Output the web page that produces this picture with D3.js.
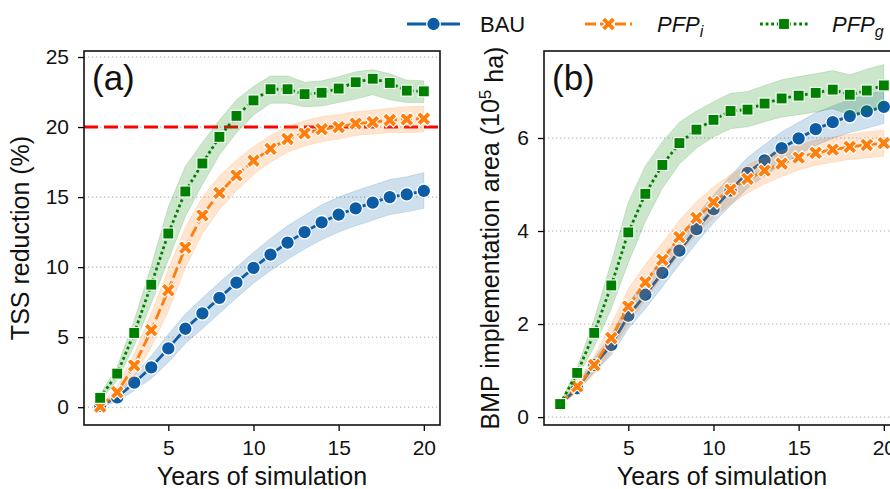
<!DOCTYPE html>
<html><head><meta charset="utf-8">
<script src="https://cdn.jsdelivr.net/npm/d3@7"></script>
<style>
body{margin:0;background:#fff}
text{font-family:"Liberation Sans",Arial,Helvetica,sans-serif;fill:#111}
</style>
</head><body>
<svg id="chart" width="890" height="489" xmlns="http://www.w3.org/2000/svg"></svg>
<script>
// ---------- data ----------
const years = [1,2,3,4,5,6,7,8,9,10,11,12,13,14,15,16,17,18,19,20];
const seriesNames = ["BAU","PFP_i","PFP_g"];
const seriesColors = ["#0c5da5","#ff7f0e","#008000"];

// (a) TSS reduction (%)
const tssBAU     = [0.1,0.7,1.75,2.85,4.2,5.6,6.7,7.8,8.9,9.95,10.9,11.75,12.5,13.2,13.75,14.2,14.6,15.0,15.2,15.45];
const tssBAULow  = [0.0,0.4,1.2,2.05,3.2,4.55,5.6,6.7,7.8,8.85,9.75,10.55,11.3,11.95,12.5,12.95,13.35,13.75,13.95,14.2];
const tssBAUHigh = [0.2,1.0,2.3,3.65,5.2,6.65,7.8,8.9,10.0,11.05,12.05,12.95,13.7,14.45,15.0,15.45,15.85,16.25,16.45,16.75];
const tssPFPi     = [0.05,1.07,2.98,5.5,8.35,11.4,13.7,15.3,16.55,17.6,18.45,19.15,19.55,19.85,20.0,20.25,20.35,20.5,20.55,20.6];
const tssPFPiLow  = [0.0,0.7,2.2,4.3,6.85,9.95,12.4,14.1,15.45,16.6,17.5,18.2,18.65,18.95,19.15,19.4,19.5,19.6,19.6,19.65];
const tssPFPiHigh = [0.15,1.45,3.8,6.7,9.85,12.85,15.0,16.5,17.65,18.6,19.4,20.05,20.45,20.75,20.9,21.1,21.2,21.35,21.45,21.5];
const tssPFPg     = [0.67,2.4,5.3,8.75,12.4,15.4,17.4,19.3,20.8,21.9,22.7,22.7,22.35,22.45,22.75,23.2,23.45,23.15,22.6,22.55];
const tssPFPgLow  = [0.45,1.9,4.4,7.4,10.5,13.6,15.9,18.0,19.6,20.85,21.7,21.7,21.45,21.5,21.75,22.0,22.3,21.95,21.75,21.75];
const tssPFPgHigh = [0.9,2.9,6.2,10.1,14.3,17.2,18.9,20.5,21.95,22.9,23.65,23.65,23.2,23.3,23.6,23.95,24.1,23.8,23.35,23.3];
const tssTarget = 20;

// (b) BMP implementation area (10^5 ha)
const areaBAU     = [0.28,0.62,1.12,1.55,2.18,2.63,3.1,3.58,4.04,4.47,4.87,5.25,5.52,5.78,5.99,6.19,6.34,6.47,6.57,6.67];
const areaBAULow  = [0.25,0.54,0.97,1.33,1.9,2.33,2.8,3.28,3.74,4.17,4.55,4.92,5.18,5.43,5.64,5.84,5.99,6.12,6.21,6.31];
const areaBAUHigh = [0.31,0.7,1.27,1.77,2.46,2.93,3.4,3.88,4.34,4.77,5.19,5.58,5.86,6.13,6.34,6.54,6.69,6.82,6.93,7.03];
const areaPFPi     = [0.28,0.66,1.12,1.7,2.38,2.9,3.38,3.87,4.28,4.62,4.89,5.12,5.3,5.45,5.58,5.68,5.75,5.81,5.85,5.89];
const areaPFPiLow  = [0.25,0.56,0.92,1.4,2.0,2.52,3.01,3.51,3.93,4.29,4.57,4.82,5.01,5.17,5.31,5.41,5.48,5.54,5.57,5.61];
const areaPFPiHigh = [0.31,0.76,1.32,2.0,2.76,3.28,3.75,4.23,4.63,4.95,5.21,5.42,5.59,5.73,5.85,5.95,6.02,6.08,6.13,6.17];
const areaPFPg     = [0.28,0.95,1.81,2.83,3.97,4.8,5.42,5.89,6.18,6.39,6.58,6.61,6.74,6.85,6.91,6.97,7.04,6.93,7.02,7.13];
const areaPFPgLow  = [0.25,0.83,1.51,2.33,3.32,4.2,4.92,5.44,5.78,6.02,6.2,6.24,6.35,6.45,6.5,6.56,6.63,6.5,6.55,6.65];
const areaPFPgHigh = [0.31,1.07,2.11,3.33,4.62,5.4,5.92,6.34,6.58,6.78,6.96,7.0,7.13,7.25,7.32,7.38,7.45,7.36,7.48,7.58];

const tssTicks = [0,5,10,15,20,25];
const areaTicks = [0,2,4,6];
const yearTicks = [5,10,15,20];

// ---------- drawing ----------
const svg = d3.select("#chart");
svg.append("rect").attr("width",890).attr("height",489).attr("fill","#fff");

const dashes = ["none","11,4","2.8,2.8"];
const frameTop = 51, frameBottom = 425, frameW = 356;

function build(mean, low, high){
  return years.map((yr,i)=>({year:yr, v:mean[i], lo:low[i], hi:high[i]}));
}

const panels = [
  {left:84, tag:"(a)", yDomain:[-1.27,25.43], ticks:tssTicks, target:tssTarget,
   series:[build(tssBAU,tssBAULow,tssBAUHigh), build(tssPFPi,tssPFPiLow,tssPFPiHigh), build(tssPFPg,tssPFPgLow,tssPFPgHigh)]},
  {left:544, tag:"(b)", yDomain:[-0.17,7.87], ticks:areaTicks, target:null,
   series:[build(areaBAU,areaBAULow,areaBAUHigh), build(areaPFPi,areaPFPiLow,areaPFPiHigh), build(areaPFPg,areaPFPgLow,areaPFPgHigh)]}
];

function drawMarker(g, kind, cx, cy, color){
  if(kind===0){
    g.append("circle").attr("cx",cx).attr("cy",cy).attr("r",6.8)
      .attr("fill",color).attr("stroke","#fff").attr("stroke-width",1.3);
  } else if(kind===1){
    g.append("path").attr("d", d3.symbol(d3.symbolCross, 125)())
      .attr("transform",`translate(${cx},${cy}) rotate(45)`)
      .attr("fill",color).attr("stroke","#fff").attr("stroke-width",1.1);
  } else {
    g.append("rect").attr("x",cx-5.5).attr("y",cy-5.5).attr("width",11).attr("height",11)
      .attr("fill",color).attr("stroke","#fff").attr("stroke-width",1.1);
  }
}

panels.forEach(p=>{
  const x = d3.scaleLinear().domain([0.05,20.95]).range([p.left,p.left+frameW]);
  const y = d3.scaleLinear().domain(p.yDomain).range([frameBottom,frameTop]);
  const g = svg.append("g");

  // grid
  g.selectAll("line.grid").data(p.ticks).enter().append("line")
    .attr("x1",p.left).attr("x2",p.left+frameW)
    .attr("y1",d=>y(d)).attr("y2",d=>y(d))
    .attr("stroke","#aaa").attr("stroke-width",1).attr("stroke-dasharray","1.3,2.7");

  // target line
  if(p.target!==null){
    g.append("line").attr("x1",p.left).attr("x2",p.left+frameW)
      .attr("y1",y(p.target)).attr("y2",y(p.target))
      .attr("stroke","#ff0000").attr("stroke-width",3).attr("stroke-dasharray","14,6");
  }

  p.series.forEach((data,si)=>{
    const color = seriesColors[si];
    const area = d3.area().x(d=>x(d.year)).y0(d=>y(d.lo)).y1(d=>y(d.hi));
    g.append("path").datum(data).attr("d",area).attr("fill",color).attr("fill-opacity",0.2)
      .attr("stroke",color).attr("stroke-opacity",0.15);
    const line = d3.line().x(d=>x(d.year)).y(d=>y(d.v));
    g.append("path").datum(data).attr("d",line).attr("fill","none")
      .attr("stroke",color).attr("stroke-width",2.8).attr("stroke-dasharray",dashes[si]);
    data.forEach(d=>drawMarker(g, si, x(d.year), y(d.v), color));
  });

  // axes
  const ya = svg.append("g").attr("transform",`translate(${p.left},0)`)
    .call(d3.axisLeft(y).tickValues(p.ticks).tickSize(6).tickPadding(9));
  const xa = svg.append("g").attr("transform",`translate(0,${frameBottom})`)
    .call(d3.axisBottom(x).tickValues(yearTicks).tickSize(6).tickPadding(9));
  [ya,xa].forEach(a=>{
    a.select(".domain").remove();
    a.selectAll("line").attr("stroke","#000").attr("stroke-width",1.3);
    a.selectAll("text").attr("font-size",21).attr("fill","#111")
      .style("font-family",'"Liberation Sans",Arial,sans-serif');
  });

  // frame
  svg.append("rect").attr("x",p.left).attr("y",frameTop).attr("width",frameW)
    .attr("height",frameBottom-frameTop).attr("fill","none").attr("stroke","#111").attr("stroke-width",1.6);

  // panel tag
  svg.append("text").attr("x",p.left+8).attr("y",90).attr("font-size",35).text(p.tag);

  // x label
  svg.append("text").attr("x",p.left+frameW/2).attr("y",485).attr("text-anchor","middle")
    .attr("font-size",25).text("Years of simulation");
});

// y labels
svg.append("text").attr("transform","translate(29,238) rotate(-90)").attr("text-anchor","middle")
  .attr("font-size",25).text("TSS reduction (%)");
const yl = svg.append("text").attr("transform","translate(499,238) rotate(-90)").attr("text-anchor","middle")
  .attr("font-size",25);
yl.append("tspan").text("BMP implementation area (10");
yl.append("tspan").attr("dy","-0.45em").attr("font-size",17).text("5");
yl.append("tspan").attr("dy","0.45em").text(" ha)");

// legend
const legendItems = [
  {x1:407, x2:460, tx:480, main:"BAU", sub:null, italic:false},
  {x1:585, x2:632, tx:657, main:"PFP", sub:"i", italic:true},
  {x1:760, x2:808, tx:832, main:"PFP", sub:"g", italic:true}
];
const ly = 24;
legendItems.forEach((it,i)=>{
  const lg = svg.append("g");
  lg.append("line").attr("x1",it.x1).attr("x2",it.x2).attr("y1",ly).attr("y2",ly)
    .attr("stroke",seriesColors[i]).attr("stroke-width",2.8).attr("stroke-dasharray",dashes[i]);
  drawMarker(lg, i, (it.x1+it.x2)/2, ly, seriesColors[i]);
  const t = lg.append("text").attr("x",it.tx).attr("y",ly+8).attr("font-size",22)
    .attr("font-style",it.italic?"italic":"normal");
  t.append("tspan").text(it.main);
  if(it.sub){
    t.append("tspan").attr("dy","0.3em").attr("font-size",16).text(it.sub);
  }
});
</script>
</body></html>
